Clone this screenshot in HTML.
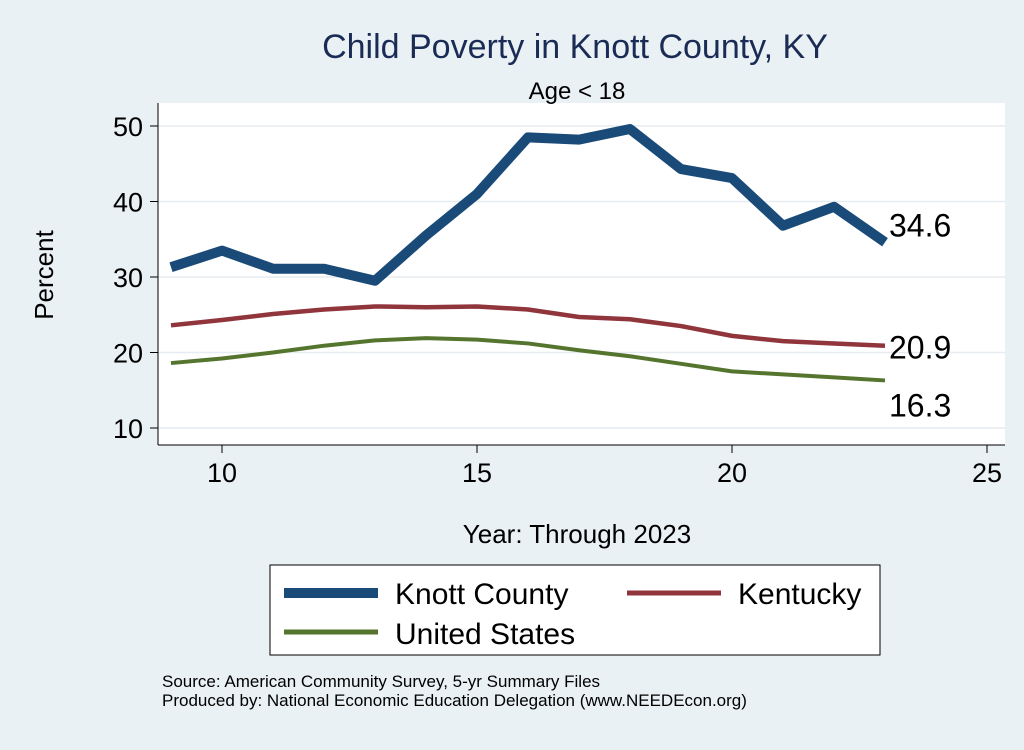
<!DOCTYPE html>
<html><head><meta charset="utf-8"><style>
body{margin:0;background:#eaf1f4;font-family:"Liberation Sans",sans-serif}
svg text{font-family:"Liberation Sans",sans-serif}
</style></head><body>
<svg width="1024" height="745" xmlns="http://www.w3.org/2000/svg">
<rect x="0" y="0" width="1024" height="745" fill="#eaf1f4"/>
<rect x="158" y="103" width="847" height="342" fill="#ffffff"/>
<text x="575" y="58" font-size="34" fill="#1a2b55" text-anchor="middle">Child Poverty in Knott County, KY</text>
<text x="577" y="99" font-size="24" fill="#000" text-anchor="middle">Age &lt; 18</text>
<g id="grid"></g>
<line x1="158" y1="103" x2="158" y2="445" stroke="#000" stroke-width="1"/>
<line x1="158" y1="445" x2="1005" y2="445" stroke="#000" stroke-width="1"/>
<g id="yt"></g>
<g id="xt"></g>
<text transform="translate(53,275) rotate(-90)" font-size="26" text-anchor="middle">Percent</text>
<text x="577" y="543" font-size="26" text-anchor="middle">Year: Through 2023</text>
<g id="series"></g>
<g>
<rect x="270" y="565" width="610" height="90" fill="#fff" stroke="#000" stroke-width="1"/>
<line x1="284" y1="593" x2="378" y2="593" stroke="#1a4a78" stroke-width="10"/>
<text x="395" y="604" font-size="30">Knott County</text>
<line x1="627" y1="593" x2="721" y2="593" stroke="#90353b" stroke-width="5"/>
<text x="738" y="604" font-size="30">Kentucky</text>
<line x1="284" y1="632" x2="378" y2="632" stroke="#55752f" stroke-width="5"/>
<text x="395" y="644" font-size="30">United States</text>
</g>
<text x="162" y="687" font-size="17">Source: American Community Survey, 5-yr Summary Files</text>
<text x="162" y="706" font-size="17">Produced by: National Economic Education Delegation (www.NEEDEcon.org)</text>
</svg>
<script>
const years=[9,10,11,12,13,14,15,16,17,18,19,20,21,22,23];
const knott=[31.3,33.5,31.1,31.1,29.5,35.5,41.0,48.5,48.2,49.6,44.3,43.1,36.8,39.3,34.6];
const kentucky=[23.6,24.3,25.1,25.7,26.1,26.0,26.1,25.7,24.7,24.4,23.5,22.2,21.5,21.2,20.9];
const us=[18.6,19.2,20.0,20.9,21.6,21.9,21.7,21.2,20.3,19.5,18.5,17.5,17.1,16.7,16.3];
const yTicks=[10,20,30,40,50];
const xTicks=[10,15,20,25];
const NS="http://www.w3.org/2000/svg";
function X(v){return 222+(v-10)*51;}
function Y(v){return 428-(v-10)*7.55;}
function mk(t,a,p){const e=document.createElementNS(NS,t);for(const k in a)e.setAttribute(k,a[k]);p.appendChild(e);return e;}
const grid=document.getElementById('grid'),yt=document.getElementById('yt'),xt=document.getElementById('xt'),ser=document.getElementById('series');
yTicks.forEach(v=>{
 const g=mk('line',{x1:158,x2:1005,y1:Y(v),y2:Y(v),stroke:'#e6ecef','stroke-width':1.5},grid);
 
 
 mk('line',{x1:150,x2:158,y1:Y(v),y2:Y(v),stroke:'#000'},yt);
 const t=mk('text',{x:143,y:Y(v)+10,'font-size':27,'text-anchor':'end'},yt);t.textContent=v;
 
 
});
xTicks.forEach(v=>{
 mk('line',{x1:X(v),x2:X(v),y1:445,y2:453},xt);
 xt.lastChild.setAttribute('stroke','#000');
 const t=mk('text',{x:X(v),y:482,'font-size':27,'text-anchor':'middle'},xt);t.textContent=v;
 
 
});
function line(d,col,w,name){
 const p=mk('polyline',{points:d.map((v,i)=>X(years[i])+','+Y(v)).join(' '),fill:'none',stroke:col,'stroke-width':w,'stroke-linejoin':'round'},ser);
 
 
}
line(us,'#55752f',4,'line-united-states');
line(kentucky,'#90353b',4.5,'line-kentucky');
line(knott,'#1a4a78',10,'line-knott-county');
const n=years.length-1;
function lab(v,dy,name){const t=mk('text',{x:X(years[n])+4,y:Y(v)+dy,'font-size':32},ser);t.textContent=v.toFixed(1);
 
 }
lab(knott[n],-6,'label-knott-last');
lab(kentucky[n],13,'label-kentucky-last');
lab(us[n],36,'label-us-last');
</script>
</body></html>
